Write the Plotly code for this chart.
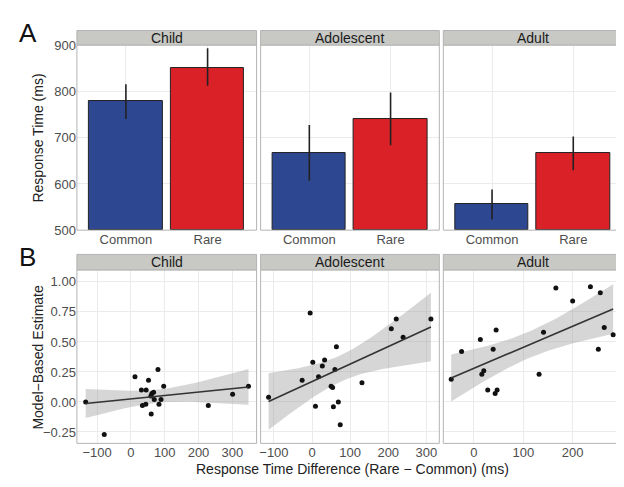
import numpy as np
import plotly.graph_objects as go

groups = ["Child", "Adolescent", "Adult"]
conditions = ["Common", "Rare"]
rt_mean = {"Child": [779, 852], "Adolescent": [668, 741], "Adult": [557, 666]}
rt_upper = {"Child": [816, 894], "Adolescent": [728, 798], "Adult": [588, 703]}
rt_lower = {"Child": [741, 813], "Adolescent": [607, 684], "Adult": [523, 630]}

child_x = [-134, -79, 12, 80, 52, 31, 45, 97, 62, 67, 59, 69, 89, 34, 44, 83, 60, 229, 301, 348]
child_y = [0.00, -0.27, 0.21, 0.27, 0.18, 0.10, 0.10, 0.13, 0.07, 0.08, 0.05, 0.02, 0.02, -0.03, -0.02, -0.02, -0.10, -0.03, 0.065, 0.13]
adol_x = [-114, -5, -26, 2, 17, 27, 33, 64, 60, 50, 54, 9, 56, 69, 74, 131, 208, 221, 239, 312]
adol_y = [0.04, 0.74, 0.18, 0.33, 0.21, 0.30, 0.35, 0.46, 0.27, 0.13, 0.12, -0.035, -0.04, 0.00, -0.19, 0.16, 0.61, 0.69, 0.54, 0.69]
adult_x = [-46, -25, 13, 45, 39, 20, 16, 28, 43, 47, 141, 132, 166, 200, 236, 256, 252, 264, 282]
adult_y = [0.19, 0.42, 0.52, 0.60, 0.44, 0.26, 0.23, 0.10, 0.07, 0.10, 0.58, 0.23, 0.95, 0.84, 0.96, 0.91, 0.44, 0.62, 0.56]
scatter = {"Child": (child_x, child_y), "Adolescent": (adol_x, adol_y), "Adult": (adult_x, adult_y)}

x_ranges_b = {"Child": [-160, 372], "Adolescent": [-135, 334], "Adult": [-62, 300]}
tickvals_b = {"Child": [-100, 0, 100, 200, 300], "Adolescent": [-100, 0, 100, 200, 300], "Adult": [0, 100, 200]}

BLUE = "#2E4791"
RED = "#DA2128"
W, H = 624, 487

def px_x(p):
    return p / W

def px_y(p):
    return 1 - p / H

col_px = [(68, 248), (252, 431), (435, 614)]
rowA = (31, 222)
rowB = (263, 442)

fig = go.Figure()
layout = {}

FONT = "Liberation Sans, Arial, sans-serif"
tickfont = dict(family=FONT, size=13, color="#4D4D4D")
grid = "#EBEBEB"

for i, g in enumerate(groups):
    # Panel A
    ax = i + 1
    xa = f"x{ax}" if ax > 1 else "x"
    ya = f"y{ax}" if ax > 1 else "y"
    up = [u - m for u, m in zip(rt_upper[g], rt_mean[g])]
    lo = [m - l for m, l in zip(rt_mean[g], rt_lower[g])]
    fig.add_trace(go.Bar(
        x=conditions, y=[m - 500 for m in rt_mean[g]], base=500,
        marker=dict(color=[BLUE, RED], line=dict(color="#222222", width=1)),
        width=0.9, xaxis=xa, yaxis=ya, showlegend=False,
        error_y=dict(type="data", symmetric=False, array=up, arrayminus=lo,
                     color="#222222", thickness=1.6, width=0),
    ))
    layout[f"xaxis{ax}" if ax > 1 else "xaxis"] = dict(
        domain=[px_x(col_px[i][0]), px_x(col_px[i][1])], anchor=ya,
        range=[-0.6, 1.6], tickfont=tickfont, showgrid=True, gridcolor=grid,
        zeroline=False, ticks="", showline=False)
    layout[f"yaxis{ax}" if ax > 1 else "yaxis"] = dict(
        domain=[px_y(rowA[1]), px_y(rowA[0])], anchor=xa,
        range=[500, 901], tickvals=[500, 600, 700, 800, 900],
        showticklabels=(i == 0), tickfont=tickfont, showgrid=True, gridcolor=grid,
        zeroline=False, ticks="")

    # Panel B
    bx = i + 4
    xb = f"x{bx}"
    yb = f"y{bx}"
    xs, ys = np.array(scatter[g][0], float), np.array(scatter[g][1], float)
    n = len(xs)
    slope, intercept = np.polyfit(xs, ys, 1)
    xg = np.linspace(xs.min(), xs.max(), 80)
    yhat = intercept + slope * xg
    resid = ys - (intercept + slope * xs)
    s = np.sqrt(np.sum(resid ** 2) / (n - 2))
    sxx = np.sum((xs - xs.mean()) ** 2)
    tval = {17: 2.110, 18: 2.101}.get(n - 2, 2.1)
    se = s * np.sqrt(1 / n + (xg - xs.mean()) ** 2 / sxx)
    upper = yhat + tval * se
    lower = yhat - tval * se
    fig.add_trace(go.Scatter(
        x=np.concatenate([xg, xg[::-1]]), y=np.concatenate([upper, lower[::-1]]),
        fill="toself", fillcolor="rgba(153,153,153,0.4)", line=dict(width=0),
        mode="lines", hoverinfo="skip", xaxis=xb, yaxis=yb, showlegend=False))
    fig.add_trace(go.Scatter(
        x=xs, y=ys, mode="markers", marker=dict(color="#111111", size=5),
        xaxis=xb, yaxis=yb, showlegend=False))
    fig.add_trace(go.Scatter(
        x=xg, y=yhat, mode="lines", line=dict(color="#333333", width=1.6),
        xaxis=xb, yaxis=yb, showlegend=False))
    layout[f"xaxis{bx}"] = dict(
        domain=[px_x(col_px[i][0]), px_x(col_px[i][1])], anchor=yb,
        range=x_ranges_b[g], tickvals=tickvals_b[g], tickfont=tickfont,
        showgrid=True, gridcolor=grid, zeroline=False, ticks="")
    layout[f"yaxis{bx}"] = dict(
        domain=[px_y(rowB[1]), px_y(rowB[0])], anchor=xb,
        range=[-0.345, 1.10], tickvals=[-0.25, 0, 0.25, 0.5, 0.75, 1.0],
        ticktext=["\u22120.25", "0.00", "0.25", "0.50", "0.75", "1.00"],
        showticklabels=(i == 0), tickfont=tickfont, showgrid=True, gridcolor=grid,
        zeroline=False, ticks="")

shapes = []
annotations = []
for i, g in enumerate(groups):
    x0, x1 = px_x(col_px[i][0]), px_x(col_px[i][1])
    for (top, bot), strip in [((rowA[0], rowA[1]), (16, 31)), ((rowB[0], rowB[1]), (247, 263))]:
        shapes.append(dict(type="rect", xref="paper", yref="paper", x0=x0, x1=x1,
                           y0=px_y(bot), y1=px_y(top), line=dict(color="#B3B3B3", width=1),
                           fillcolor="rgba(0,0,0,0)", layer="above"))
        shapes.append(dict(type="rect", xref="paper", yref="paper", x0=x0, x1=x1,
                           y0=px_y(strip[1]), y1=px_y(strip[0]),
                           line=dict(color="#B3B3B3", width=1), fillcolor="#C8C8C4"))
        annotations.append(dict(text=g, xref="paper", yref="paper", x=(x0 + x1) / 2,
                                y=px_y((strip[0] + strip[1]) / 2), showarrow=False,
                                font=dict(family=FONT, size=14, color="#1A1A1A"),
                                xanchor="center", yanchor="middle"))

annotations += [
    dict(text="A", xref="paper", yref="paper", x=px_x(8), y=px_y(19), showarrow=False,
         font=dict(family=FONT, size=26, color="#111111"), xanchor="left", yanchor="middle"),
    dict(text="B", xref="paper", yref="paper", x=px_x(8), y=px_y(250), showarrow=False,
         font=dict(family=FONT, size=26, color="#111111"), xanchor="left", yanchor="middle"),
    dict(text="Response Time (ms)", xref="paper", yref="paper", x=px_x(29),
         y=px_y((rowA[0] + rowA[1]) / 2), textangle=-90, showarrow=False,
         font=dict(family=FONT, size=14, color="#222222"), xanchor="center", yanchor="middle"),
    dict(text="Model\u2212Based Estimate", xref="paper", yref="paper", x=px_x(29),
         y=px_y((rowB[0] + rowB[1]) / 2), textangle=-90, showarrow=False,
         font=dict(family=FONT, size=14, color="#222222"), xanchor="center", yanchor="middle"),
    dict(text="Response Time Difference (Rare \u2212 Common) (ms)", xref="paper", yref="paper",
         x=px_x(344), y=px_y(468), showarrow=False,
         font=dict(family=FONT, size=14, color="#222222"), xanchor="center", yanchor="middle"),
]

fig.update_layout(
    width=W, height=H, margin=dict(l=0, r=0, t=0, b=0),
    paper_bgcolor="white", plot_bgcolor="white",
    shapes=shapes, annotations=annotations, bargap=0, **layout)

fig.write_html("out.html")
